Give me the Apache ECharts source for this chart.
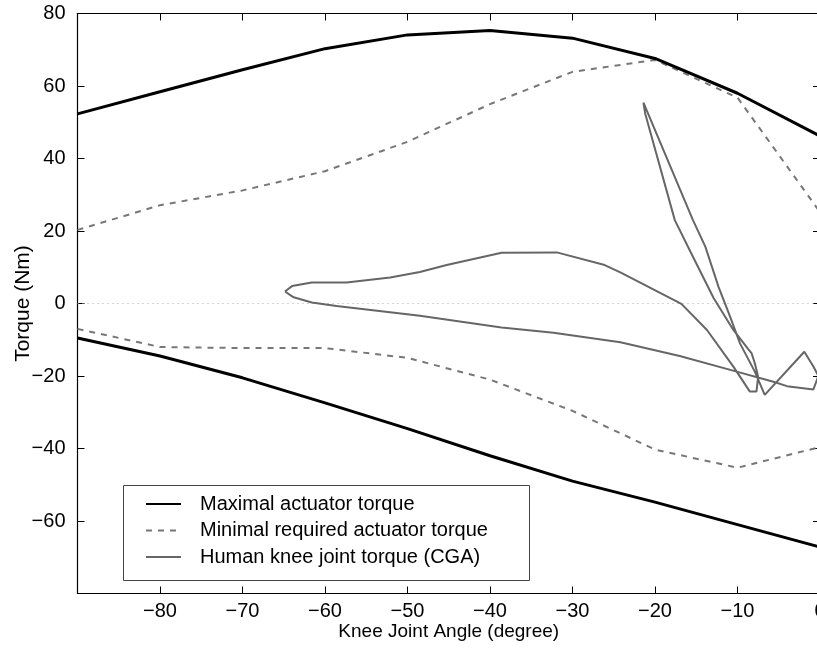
<!DOCTYPE html>
<html>
<head>
<meta charset="utf-8">
<script src="https://cdn.jsdelivr.net/npm/echarts@6/dist/echarts.min.js"></script>
<style>html,body{margin:0;padding:0;background:#fff;}#c{width:817px;height:652px;}</style>
</head>
<body>
<div id="c"></div>
<script>
const angles = [-90, -80, -70, -60, -50, -40, -30, -20, -10, 0];
const maxUpper = [52.3, 58.4, 64.5, 70.3, 74.1, 75.3, 73.2, 67.6, 58, 46.2];
const maxLower = [-9.5, -14.5, -20.5, -27.4, -34.5, -42, -49, -54.8, -61, -67.2];
const minUpper = [20.3, 27.1, 31.2, 36.5, 44.6, 55, 63.9, 67.2, 56.8, 25.2];
const minLower = [-7, -12, -12.3, -12.3, -15, -21, -29.6, -40.3, -45.3, -39.6];

const cgaAngle = [-64.85, -64.0, -61.6, -57.4, -52.1, -48.5, -45.25, -38.6, -31.9, -26.1, -24.2, -16.8, -13.7, -10.5, -8.5, -7.7, -7.5, -7.9, -8.3, -8.7, -10.5, -12.9, -15.4, -17.6, -21.2, -21.4, -15.4, -13.9, -12.3, -10.9, -9.7, -7.9, -6.7, -1.9, -0.8, -0.2, -0.8, -4.0, -5.65, -10.1, -17.0, -24.2, -32.3, -38.6, -48.5, -58.6, -61.6, -63.8, -64.85];
const cgaTorque = [3.3, 4.8, 5.8, 5.8, 7.2, 8.7, 10.6, 14.0, 14.1, 10.6, 8.6, -0.1, -7.3, -17.4, -24.3, -24.3, -20.2, -16.5, -13.7, -12.6, -7.3, 1.5, 12.9, 23.0, 52.5, 55.4, 23.0, 15.7, 4.6, -3.6, -11, -18.8, -25.2, -13.3, -17.4, -20.0, -23.7, -22.8, -21.6, -18.8, -14.5, -10.7, -8.05, -6.6, -3.4, -0.7, 0.3, 1.7, 3.3];

const xTicks = [-90, 0, 10];
const yTicks = [-80, 80, 20];

const zip = (a, b) => a.map((v, i) => [v, b[i]]);
const minus = v => String(v).replace('-', '\u2212');
const FONT = 'Liberation Sans, Arial, Helvetica, sans-serif';

const chart = echarts.init(document.getElementById('c'), null, {renderer: 'canvas'});
const axisCommon = {
  axisLine: {show: true, onZero: false, lineStyle: {color: '#000', width: 1.2}},
  axisTick: {show: true, inside: true, length: 7, lineStyle: {color: '#000', width: 1}},
  splitLine: {show: false}
};
chart.setOption({
  animation: false,
  backgroundColor: '#fff',
  textStyle: {fontFamily: FONT},
  grid: {left: 77.5, top: 13.5, width: 742.5, height: 580, containLabel: false, outerBoundsMode: 'none'},
  xAxis: [
    Object.assign({type: 'value', min: xTicks[0], max: xTicks[1], interval: xTicks[2], position: 'bottom',
      name: 'Knee Joint Angle (degree)', nameLocation: 'middle', nameGap: 29, nameMoveOverlap: false,
      nameTextStyle: {fontSize: 19, color: '#000', fontFamily: FONT},
      axisLabel: {show: true, showMinLabel: false, fontSize: 20, color: '#000', margin: 8, fontFamily: FONT, formatter: minus}}, axisCommon),
    Object.assign({type: 'value', min: xTicks[0], max: xTicks[1], interval: xTicks[2], position: 'top',
      axisLabel: {show: false}}, axisCommon)
  ],
  yAxis: [
    Object.assign({type: 'value', min: yTicks[0], max: yTicks[1], interval: yTicks[2], position: 'left',
      name: 'Torque (Nm)', nameLocation: 'middle', nameGap: 44, nameRotate: 90, nameMoveOverlap: false,
      nameTextStyle: {fontSize: 21, color: '#000', fontFamily: FONT},
      axisLabel: {show: true, showMinLabel: false, fontSize: 20, color: '#000', margin: 12, fontFamily: FONT, formatter: minus}}, axisCommon),
    Object.assign({type: 'value', min: yTicks[0], max: yTicks[1], interval: yTicks[2], position: 'right',
      axisLabel: {show: false}}, axisCommon)
  ],
  legend: {
    data: ['Maximal actuator torque', 'Minimal required actuator torque', 'Human knee joint torque (CGA)'],
    orient: 'vertical', left: 145, top: 494,
    itemWidth: 35, itemHeight: 14, itemGap: 6.5,
    padding: 0,
    itemStyle: {opacity: 0},
    textStyle: {fontSize: 20, color: '#000', fontFamily: FONT, padding: [0, 0, 0, 14]}
  },
  graphic: [{
    type: 'rect', left: 123, top: 485, z: 0,
    shape: {width: 406, height: 95},
    style: {fill: '#fff', stroke: '#444', lineWidth: 1}
  }],
  series: [
    {name: 'zero', type: 'line', data: [[xTicks[0], 0], [xTicks[1], 0]], symbol: 'none', silent: true,
      lineStyle: {color: '#aaa', width: 1, type: [1, 4]}, z: 1},
    {name: 'Maximal actuator torque', type: 'line', data: zip(angles, maxUpper), symbol: 'none',
      lineStyle: {color: '#000', width: 3}, itemStyle: {color: '#000'}, z: 3},
    {name: 'Maximal actuator torque', type: 'line', data: zip(angles, maxLower), symbol: 'none',
      lineStyle: {color: '#000', width: 3}, itemStyle: {color: '#000'}, z: 3},
    {name: 'Minimal required actuator torque', type: 'line', data: zip(angles, minUpper), symbol: 'none',
      lineStyle: {color: '#777', width: 2, type: [6, 6]}, itemStyle: {color: '#777'}, z: 2},
    {name: 'Minimal required actuator torque', type: 'line', data: zip(angles, minLower), symbol: 'none',
      lineStyle: {color: '#777', width: 2, type: [6, 6]}, itemStyle: {color: '#777'}, z: 2},
    {name: 'Human knee joint torque (CGA)', type: 'line', data: zip(cgaAngle, cgaTorque), symbol: 'none',
      lineStyle: {color: '#666', width: 2}, itemStyle: {color: '#666'}, z: 2}
  ]
});
</script>
</body>
</html>
